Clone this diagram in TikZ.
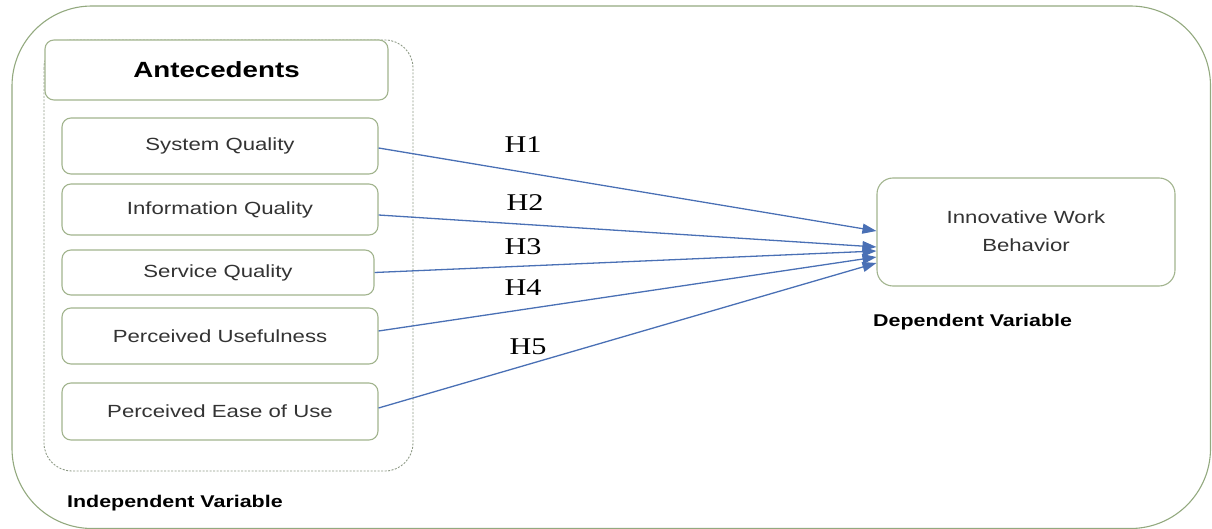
\documentclass[tikz,border=0pt]{standalone}
\usepackage{graphicx}
\usepackage{fontspec}
\setmainfont{Liberation Sans}
\newfontfamily\serifH{Liberation Serif}
\usetikzlibrary{arrows.meta,calc}
\definecolor{boxgreen}{HTML}{A2B48E}
\definecolor{outergreen}{HTML}{93A97F}
\definecolor{dashgray}{HTML}{8E9A86}
\definecolor{arrowblue}{HTML}{4A70B5}
\definecolor{txtgray}{HTML}{333333}
\newcommand{\stx}[1]{\scalebox{1.26}[1]{#1}}
\begin{document}
\begin{tikzpicture}[x=1pt,y=-1pt,
  varbox/.style={draw=boxgreen, line width=1.1pt, rounded corners=9pt, fill=white,
    inner sep=0pt, text=txtgray, font=\fontsize{17.6}{21}\selectfont},
  hyparrow/.style={draw=arrowblue, line width=1.3pt, -{Triangle[length=14pt,width=10pt]}},
  hlabel/.style={font=\serifH\fontsize{24}{28}\selectfont, text=black, inner sep=0pt},
  grouplabel/.style={font=\bfseries\fontsize{17}{20}\selectfont, text=black, inner sep=0pt, anchor=west}]
\useasboundingbox (0,0) rectangle (1212,529);
% outer frame
\draw[outergreen, line width=1.1pt, rounded corners=80pt] (12,6) rectangle (1210.5,528.5);
% dashed group
\draw[dashgray, line width=0.9pt, dash pattern=on 2pt off 1.5pt, rounded corners=28pt] (44,40) rectangle (413,471);
% boxes
\node[varbox, minimum width=343pt, minimum height=60pt, text=black] (ant) at (216.5,70)
  {\stx{\bfseries\fontsize{22}{26}\selectfont Antecedents}};
\node[varbox, minimum width=316pt, minimum height=56pt] (sq) at (220,146) {\stx{System Quality}};
\node[varbox, minimum width=316pt, minimum height=51pt] (iq) at (220,209.5) {\stx{Information Quality}};
\node[varbox, minimum width=312pt, minimum height=45pt] (svq) at (218,272.5) {\stx{Service Quality}};
\node[varbox, minimum width=316pt, minimum height=56pt] (pu) at (220,336) {\stx{Perceived Usefulness}};
\node[varbox, minimum width=316pt, minimum height=57pt] (peu) at (220,411.5) {\stx{Perceived Ease of Use}};
\node[varbox, minimum width=298pt, minimum height=108pt, rounded corners=16pt] (iwb) at (1026,232)
  {\stx{\fontsize{17.6}{28}\selectfont\begin{tabular}{@{}c@{}}Innovative Work\\Behavior\end{tabular}}};
% arrows
\draw[hyparrow] ([yshift=-2pt]sq.east) -- ([yshift=1pt]iwb.west);
\draw[hyparrow] ([yshift=-5.5pt]iq.east) -- ([yshift=-15pt]iwb.west);
\draw[hyparrow] (svq.east) -- ([yshift=-19pt]iwb.west);
\draw[hyparrow] ([yshift=5pt]pu.east) -- ([yshift=-25pt]iwb.west);
\draw[hyparrow] ([yshift=3.5pt]peu.east) -- ([yshift=-31pt]iwb.west);
% hypothesis labels
\node[hlabel] (h1) at (523,145) {\stx{H1}};
\node[hlabel] (h2) at (525,203) {\stx{H2}};
\node[hlabel] (h3) at (523,247) {\stx{H3}};
\node[hlabel] (h4) at (523,288) {\stx{H4}};
\node[hlabel] (h5) at (528,347) {\stx{H5}};
% group labels
\node[grouplabel] (indep) at (67,503) {\stx{Independent Variable}};
\node[grouplabel] (dep) at (873,322) {\stx{Dependent Variable}};
\end{tikzpicture}
\end{document}
